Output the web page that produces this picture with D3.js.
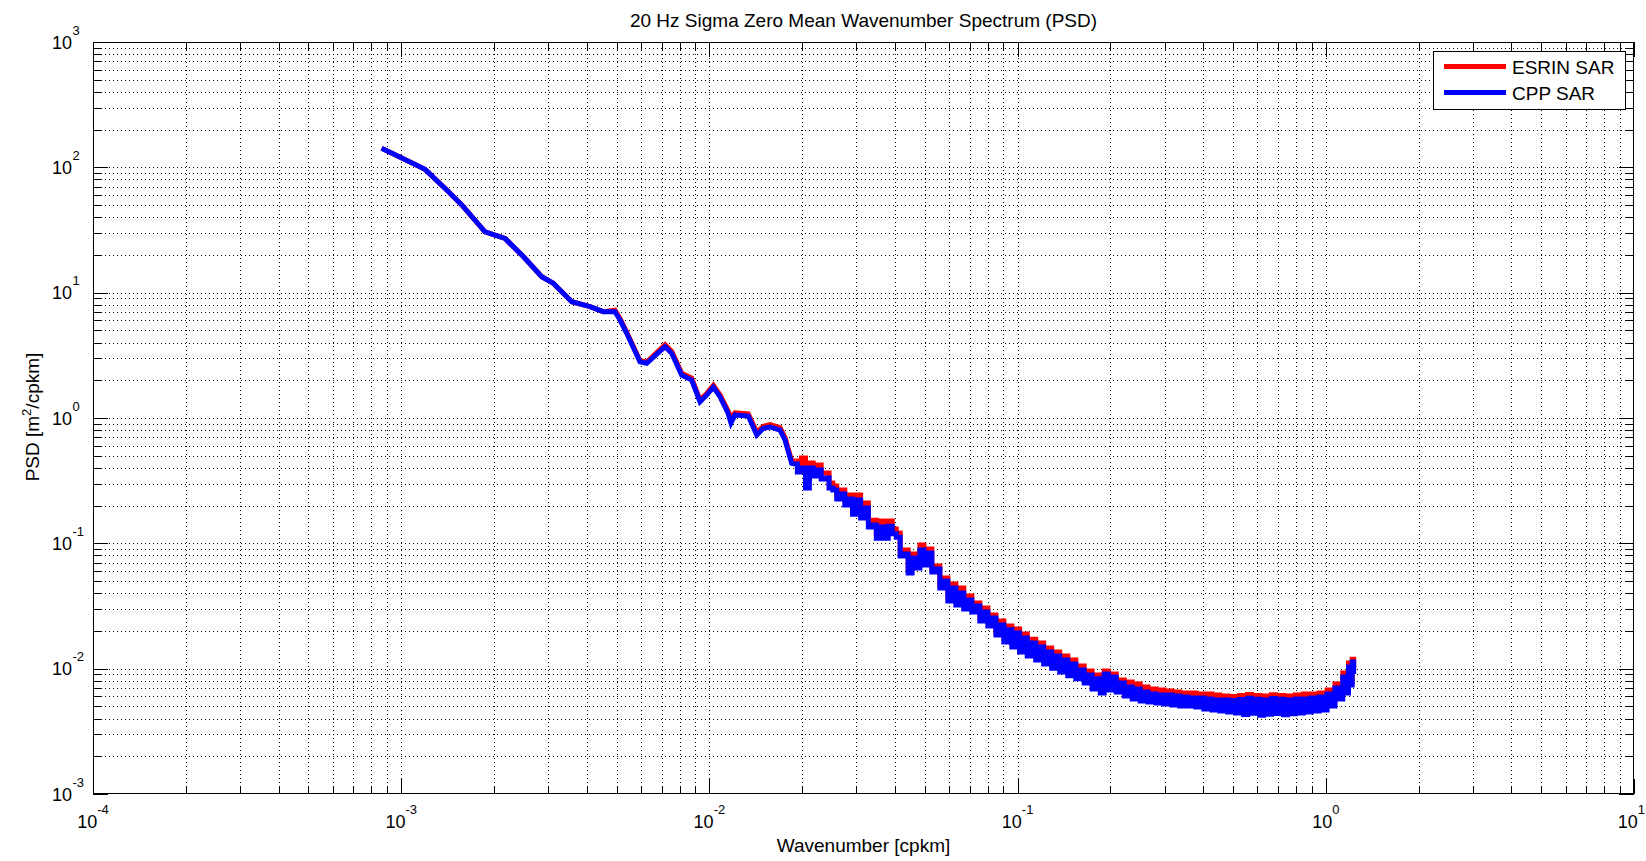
<!DOCTYPE html>
<html>
<head>
<meta charset="utf-8">
<script src="https://cdn.jsdelivr.net/npm/d3@7"></script>
<style>
  html, body { margin: 0; padding: 0; background: #fff; }
  svg { display: block; font-family: "Liberation Sans", Arial, Helvetica, sans-serif; }
</style>
</head>
<body>
<svg id="chart" width="1646" height="861"></svg>
<script>
// ---- data ------------------------------------------------------------
// Wavenumber [cpkm] of each spectral estimate.
const wavenumber = [
  8.64e-4, 1.195e-3, 1.405e-3, 1.572e-3, 1.871e-3, 2.172e-3, 2.49e-3, 2.857e-3, 3.115e-3, 3.575e-3,
  4.10e-3, 4.53e-3, 4.94e-3, 5.13e-3, 5.39e-3, 5.955e-3, 6.26e-3, 7.18e-3, 7.55e-3, 8.13e-3,
  8.76e-3, 9.32e-3, 9.80e-3, 1.03e-2, 1.082e-2, 1.149e-2, 1.175e-2, 1.211e-2, 1.337e-2, 1.424e-2,
  1.496e-2, 1.573e-2, 1.695e-2, 1.759e-2, 1.849e-2,
  .0190, .0196, .0202, .0208, .0214, .0220, .0227, .0234, .0241, .0248,
  .0255, .0263, .0271, .0279, .0287, .0296, .0305, .0314, .0323, .0333,
  .0343, .0353, .0364, .0375, .0386, .0398, .0410, .0422, .0435, .0448,
  .0461, .0475, .0489, .0504, .0519, .0535, .0551, .0568, .0585, .0603,
  .0621, .0640, .0659, .0679, .0700, .0721, .0743, .0766, .0789, .0813,
  .0838, .0863, .0889, .0916, .0944, .0972, .100, .103, .106, .109,
  .113, .116, .120, .123, .127, .131, .135, .139, .143, .148,
  .152, .157, .162, .167, .172, .177, .183, .188, .194, .200,
  .206, .212, .219, .225, .232, .239, .246, .254, .261, .269,
  .277, .286, .294, .303, .312, .322, .331, .341, .352, .362,
  .373, .385, .396, .408, .421, .433, .446, .460, .474, .488,
  .503, .518, .534, .550, .566, .583, .601, .619, .638, .657,
  .677, .697, .718, .740, .762, .785, .809, .833, .858, .884,
  .911, .938, .966, .995, 1.025, 1.055, 1.087, 1.120, 1.150, 1.175,
  1.195, 1.210, 1.225, 1.238
];

// PSD [m^2/cpkm], ESRIN SAR processing.
const esrinPsd = [
  142, 96.4, 65.9, 50.1, 30.6, 27.1, 19.4, 13.4, 11.9, 8.47,
  7.73, 7.05, 7.25, 6.2, 4.85, 2.86, 2.80, 3.85, 3.40, 2.27,
  2.08, 1.39, 1.57, 1.82, 1.53, 1.14, 1.0, 1.10, 1.08, 0.77,
  0.86, 0.885, 0.84, 0.70, 0.455,
  .454, .407, .480, .320, .438, .378, .422, .364, .364, .303,
  .287, .243, .266, .222, .243, .188, .243, .174, .210, .148,
  .153, .121, .151, .123, .151, .130, .121, .0854, .0886, .0625,
  .0823, .0698, .0971, .0737, .0903, .0625, .0660, .0465, .0529, .0373,
  .0474, .0347, .0441, .0322, .0380, .0305, .0334, .0254, .0305, .0236,
  .0268, .0196, .0240, .0176, .0219, .0160, .0207, .0146, .0189, .0136,
  .0172, .0126, .0160, .0117, .0146, .0109, .0136, .0101, .0126, .00942,
  .0117, .00892, .0105, .00844, .00960, .00742, .00892, .00689, .00960, .00715,
  .00908, .00689, .00813, .00652, .00784, .00629, .00756, .00606, .00715, .00595,
  .00689, .00584, .00677, .00574, .00664, .00563, .00652, .00543, .00640, .00543,
  .00640, .00543, .00629, .00514, .00629, .00514, .00617, .00504, .00606, .00486,
  .00600, .00468, .00610, .00466, .00622, .00472, .00612, .00460, .00606, .00464,
  .00620, .00470, .00612, .00462, .00606, .00470, .00617, .00477, .00629, .00486,
  .00629, .00495, .00640, .00504, .00677, .00543, .00756, .00617, .00925, .00689,
  .0111, .00784, .0119, .00960
];

// PSD [m^2/cpkm], CPP SAR processing.
const cppPsd = [
  142, 96.4, 65.9, 50.1, 30.6, 27.1, 19.4, 13.4, 11.9, 8.47,
  7.73, 7.05, 7.05, 6.05, 4.74, 2.81, 2.73, 3.71, 3.28, 2.20,
  2.01, 1.35, 1.525, 1.76, 1.48, 1.096, 0.912, 1.057, 1.037, 0.732,
  0.827, 0.848, 0.802, 0.668, 0.435,
  .430, .371, .399, .276, .399, .345, .385, .326, .332, .276,
  .266, .226, .248, .202, .226, .171, .222, .159, .191, .135,
  .140, .110, .135, .110, .137, .119, .112, .0794, .0823, .0580,
  .0765, .0636, .0886, .0672, .0839, .0591, .0625, .0441, .0501, .0347,
  .0441, .0322, .0402, .0299, .0353, .0283, .0316, .0240, .0283, .0219,
  .0254, .0186, .0223, .0163, .0204, .0149, .0193, .0136, .0176, .0126,
  .0160, .0117, .0149, .0109, .0136, .0101, .0126, .00942, .0117, .00876,
  .0109, .00829, .00978, .00770, .00892, .00689, .00829, .00640, .00908, .00677,
  .00860, .00652, .00770, .00606, .00715, .00574, .00689, .00553, .00652, .00543,
  .00629, .00533, .00617, .00523, .00617, .00514, .00606, .00504, .00595, .00504,
  .00584, .00495, .00584, .00477, .00574, .00468, .00563, .00460, .00563, .00452,
  .00556, .00443, .00568, .00430, .00580, .00440, .00570, .00424, .00563, .00432,
  .00578, .00438, .00570, .00428, .00563, .00436, .00574, .00443, .00574, .00452,
  .00584, .00460, .00595, .00468, .00629, .00504, .00702, .00574, .00860, .00640,
  .0103, .00742, .0113, .00908
];

// Above this wavenumber the estimates are dense and alternate between
// neighbouring extremes, so they are drawn as steps.
const denseFrom = 0.0185;

const seriesNames = ["ESRIN SAR", "CPP SAR"];
const seriesColors = ["#ff0000", "#0000ff"];
const xTickExponents = [-4, -3, -2, -1, 0, 1];
const yTickExponents = [-3, -2, -1, 0, 1, 2, 3];
const titleText = "20 Hz Sigma Zero Mean Wavenumber Spectrum (PSD)";
const xLabelText = "Wavenumber [cpkm]";

// ---- layout ----------------------------------------------------------
const W = 1646;
const svg = d3.select("#chart");
const L = 93, R = 1634, T = 42, B = 794;
const x = d3.scaleLog().domain([1e-4, 10]).range([L, R]);
const y = d3.scaleLog().domain([1e-3, 1e3]).range([B, T]);
const crisp = v => Math.round(v) + 0.5;
const isMajor = v => Math.abs(Math.log10(v) - Math.round(Math.log10(v))) < 1e-9;

const xTicks = x.ticks();
const yTicks = y.ticks();

// ---- grid ------------------------------------------------------------
const grid = svg.append("g")
  .attr("stroke", "#000")
  .attr("stroke-width", 1)
  .attr("stroke-dasharray", "1,3")
  .attr("shape-rendering", "crispEdges");

grid.selectAll("line.gx")
  .data(xTicks.filter(v => v > 1.0001e-4 && v < 9.999))
  .join("line")
  .attr("class", "gx")
  .attr("x1", d => crisp(x(d))).attr("x2", d => crisp(x(d)))
  .attr("y1", T).attr("y2", B);

grid.selectAll("line.gy")
  .data(yTicks.filter(v => v > 1.0001e-3 && v < 999.9))
  .join("line")
  .attr("class", "gy")
  .attr("y1", d => crisp(y(d))).attr("y2", d => crisp(y(d)))
  .attr("x1", L).attr("x2", R);

// ---- curves ----------------------------------------------------------
svg.append("clipPath").attr("id", "plotClip")
  .append("rect").attr("x", L).attr("y", T).attr("width", R - L).attr("height", B - T);

const split = wavenumber.findIndex(k => k >= denseFrom);
const lineSparse = d3.line().x(d => x(d[0])).y(d => y(d[1])).curve(d3.curveLinear);
const lineDense = d3.line().x(d => x(d[0])).y(d => y(d[1])).curve(d3.curveStep);

const curves = svg.append("g").attr("clip-path", "url(#plotClip)");
[esrinPsd, cppPsd].forEach((vals, si) => {
  const pts = wavenumber.map((k, i) => [k, vals[i]]);
  const g = curves.append("g")
    .attr("fill", "none")
    .attr("stroke", seriesColors[si])
    .attr("stroke-width", 5)
    .attr("stroke-linejoin", "miter");
  g.append("path").attr("d", lineSparse(pts.slice(0, split + 1)));
  g.append("path").attr("d", lineDense(pts.slice(split)));
});

// ---- axes box and ticks ---------------------------------------------
const axes = svg.append("g")
  .attr("stroke", "#000")
  .attr("stroke-width", 1)
  .attr("shape-rendering", "crispEdges");

axes.append("rect")
  .attr("x", L + 0.5).attr("y", T + 0.5)
  .attr("width", R - L - 1).attr("height", B - T - 1)
  .attr("fill", "none");

const MAJ = 15, MIN = 8;
xTicks.forEach(v => {
  const px = crisp(x(v)), len = isMajor(v) ? MAJ : MIN;
  axes.append("line").attr("x1", px).attr("x2", px).attr("y1", B).attr("y2", B - len);
  axes.append("line").attr("x1", px).attr("x2", px).attr("y1", T).attr("y2", T + len);
});
yTicks.forEach(v => {
  const py = crisp(y(v)), len = isMajor(v) ? MAJ : MIN;
  axes.append("line").attr("y1", py).attr("y2", py).attr("x1", L).attr("x2", L + len);
  axes.append("line").attr("y1", py).attr("y2", py).attr("x1", R).attr("x2", R - len);
});

// ---- tick labels -----------------------------------------------------
const labels = svg.append("g").attr("fill", "#000");

xTickExponents.forEach(e => {
  const t = labels.append("text")
    .attr("x", x(Math.pow(10, e)))
    .attr("y", 828)
    .attr("text-anchor", "middle")
    .attr("font-size", 18);
  t.append("tspan").text("10");
  t.append("tspan").attr("dy", -14).attr("font-size", 13).text(String(e));
  // keep the rightmost label inside the page
  const bb = t.node().getBBox();
  if (bb.x + bb.width > W - 1) {
    t.attr("x", x(Math.pow(10, e)) - (bb.x + bb.width - (W - 1)));
  }
});

yTickExponents.forEach(e => {
  const py = y(Math.pow(10, e));
  labels.append("text")
    .attr("x", 72).attr("y", py + 6.5)
    .attr("text-anchor", "end")
    .attr("font-size", 18)
    .text("10");
  labels.append("text")
    .attr("x", 72.5).attr("y", py - 7.5)
    .attr("text-anchor", "start")
    .attr("font-size", 13)
    .text(String(e));
});

// ---- title and axis labels ------------------------------------------
labels.append("text")
  .attr("x", (L + R) / 2).attr("y", 27)
  .attr("text-anchor", "middle")
  .attr("font-size", 19)
  .text(titleText);

labels.append("text")
  .attr("x", (L + R) / 2).attr("y", 852)
  .attr("text-anchor", "middle")
  .attr("font-size", 19)
  .text(xLabelText);

const yl = labels.append("text")
  .attr("transform", "translate(39,417) rotate(-90)")
  .attr("text-anchor", "middle")
  .attr("font-size", 19);
yl.append("tspan").text("PSD [m");
yl.append("tspan").attr("dy", -8).attr("font-size", 13).text("2");
yl.append("tspan").attr("dy", 8).text("/cpkm]");

// ---- legend ----------------------------------------------------------
const lg = svg.append("g");
lg.append("rect")
  .attr("x", 1433.5).attr("y", 51.5).attr("width", 192).attr("height", 58)
  .attr("fill", "#fff").attr("stroke", "#000").attr("stroke-width", 1)
  .attr("shape-rendering", "crispEdges");
seriesNames.forEach((name, i) => {
  const cy = 66.5 + i * 26;
  lg.append("line")
    .attr("x1", 1444).attr("x2", 1506).attr("y1", cy).attr("y2", cy)
    .attr("stroke", seriesColors[i]).attr("stroke-width", 5);
  lg.append("text")
    .attr("x", 1512).attr("y", cy + 7)
    .attr("font-size", 19).attr("fill", "#000")
    .text(name);
});
</script>
</body>
</html>
